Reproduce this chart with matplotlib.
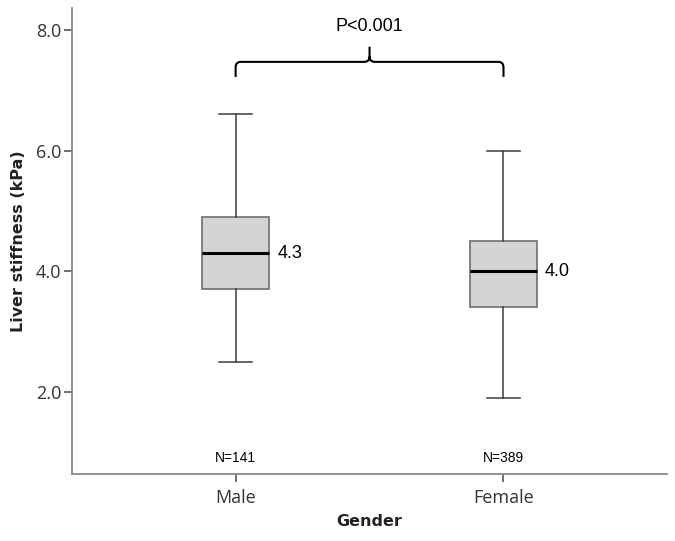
import matplotlib
matplotlib.use("Agg")
import matplotlib.pyplot as plt
from matplotlib.path import Path
from matplotlib.patches import PathPatch

# data
groups = ['Male', 'Female']
n_counts = [141, 389]
whisker_low = [2.5, 1.9]
q1 = [3.7, 3.4]
median = [4.3, 4.0]
q3 = [4.9, 4.5]
whisker_high = [6.6, 6.0]
p_text = 'P<0.001'

stats = []
for i in range(len(groups)):
    stats.append({'label': groups[i], 'whislo': whisker_low[i], 'q1': q1[i],
                  'med': median[i], 'q3': q3[i], 'whishi': whisker_high[i],
                  'fliers': []})

positions = [1, 2]

fig = plt.figure(figsize=(6.75, 5.41), dpi=100)
ax = fig.add_axes([0.107, 0.124, 0.881, 0.862])

ax.bxp(stats, positions=positions, widths=0.25, patch_artist=True,
       showfliers=False,
       boxprops=dict(facecolor='#d4d4d4', edgecolor='#6e6e6e', linewidth=1.2),
       medianprops=dict(color='black', linewidth=2.2),
       whiskerprops=dict(color='#3a3a3a', linewidth=1.1),
       capprops=dict(color='#3a3a3a', linewidth=1.1),
       capwidths=0.125)

ax.set_xlim(0.39, 2.61)
ax.set_ylim(0.64, 8.37)
ax.set_yticks([2.0, 4.0, 6.0, 8.0])
ax.set_yticklabels(['2.0', '4.0', '6.0', '8.0'], family='Open Sans', fontsize=13, color='#333333')
ax.set_xticks(positions)
ax.set_xticklabels(groups, family='Open Sans', fontsize=13, color='#333333')
ax.tick_params(axis='both', color='#555555', length=6, width=1.2)
ax.tick_params(axis='x', pad=5)
ax.tick_params(axis='y', pad=2)

for s in ['top', 'right']:
    ax.spines[s].set_visible(False)
for s in ['left', 'bottom']:
    ax.spines[s].set_color('#8a8a8a')
    ax.spines[s].set_linewidth(1.3)

ax.set_ylabel('Liver stiffness (kPa)', family='DejaVu Sans', fontweight='bold', fontsize=11.5, color='#222222', labelpad=7)
ax.set_xlabel('Gender', family='DejaVu Sans', fontweight='bold', fontsize=11.5, color='#222222', labelpad=5)

# median labels and N counts
for i in range(len(groups)):
    ax.text(positions[i] + 0.155, median[i], '%.1f' % median[i], family='Liberation Sans',
            fontsize=13, va='center', ha='left')
    ax.text(positions[i], 0.9, 'N=%d' % n_counts[i], family='Liberation Sans',
            fontsize=10, va='center', ha='center')

# brace between groups
x1, x2 = positions[0], positions[1]
xm = (x1 + x2) / 2
y_bot, y_h, y_tip = 7.22, 7.47, 7.72
dx, dy = 0.02, 0.09
verts = [(x1, y_bot), (x1, y_h - dy), (x1, y_h), (x1 + dx, y_h),
         (xm - dx, y_h), (xm, y_h), (xm, y_h + dy), (xm, y_tip),
         (xm, y_h + dy), (xm, y_h), (xm + dx, y_h),
         (x2 - dx, y_h), (x2, y_h), (x2, y_h - dy), (x2, y_bot)]
codes = [Path.MOVETO, Path.LINETO, Path.CURVE3, Path.CURVE3,
         Path.LINETO, Path.CURVE3, Path.CURVE3, Path.LINETO,
         Path.MOVETO, Path.CURVE3, Path.CURVE3,
         Path.LINETO, Path.CURVE3, Path.CURVE3, Path.LINETO]
ax.add_patch(PathPatch(Path(verts, codes), fill=False, edgecolor='black', linewidth=1.5,
                       clip_on=False))
ax.text(xm, 8.05, p_text, family='Liberation Sans', fontsize=13, ha='center', va='center')

fig.savefig('out.png', dpi=100)
